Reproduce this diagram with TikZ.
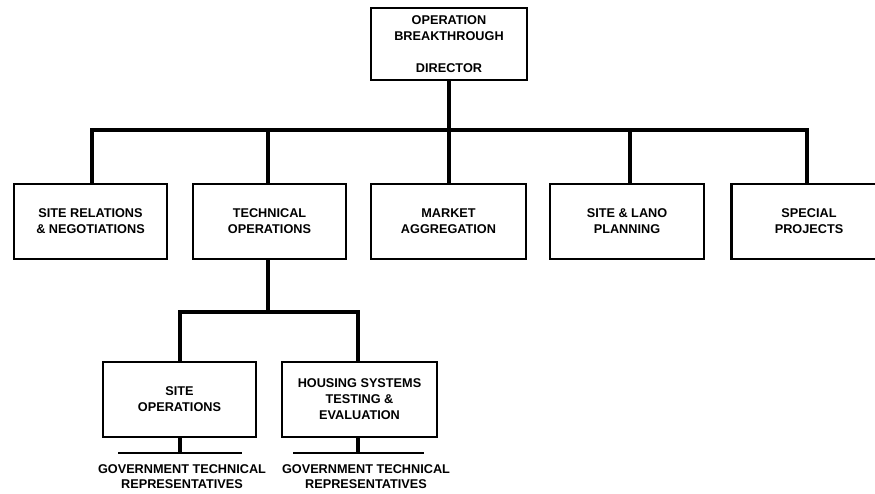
\documentclass[tikz,border=0pt]{standalone}
\usepackage{fontspec}
\setmainfont{Liberation Sans}
\begin{document}
\begin{tikzpicture}[x=1pt,y=-1pt,
  box/.style={draw,line width=2.2pt,minimum height=75pt,align=center,inner sep=0pt,
    font=\fontsize{12.7pt}{16pt}\selectfont\bfseries},
  lbl/.style={align=center,inner sep=0pt,font=\fontsize{12.7pt}{15pt}\selectfont\bfseries},
  trunk/.style={line width=4pt},
  foot/.style={line width=2pt}]
\useasboundingbox (0,0) rectangle (875,493);
% top
\node[box,minimum width=156pt,minimum height=72pt] (top) at (449,44) {OPERATION\\BREAKTHROUGH\\ \\DIRECTOR};
% row
\node[box,minimum width=153pt] (b1) at (90.5,221.5) {SITE RELATIONS\\\& NEGOTIATIONS};
\node[box,minimum width=153pt] (b2) at (269.5,221.5) {TECHNICAL\\OPERATIONS};
\node[box,minimum width=155pt] (b3) at (448.5,221.5) {MARKET\\AGGREGATION};
\node[box,minimum width=154pt] (b4) at (627,221.5) {SITE \& LANO\\PLANNING};
\node[box,minimum width=155pt] (b5) at (809,221.5) {SPECIAL\\PROJECTS};
% sub
\node[box,minimum width=153pt] (sA) at (179.5,399.5) {SITE\\OPERATIONS};
\node[box,minimum width=155pt] (sB) at (359.5,399.5) {HOUSING SYSTEMS\\TESTING \&\\EVALUATION};
% labels
\node[lbl] (gA) at (182,476.5) {GOVERNMENT TECHNICAL\\REPRESENTATIVES};
\node[lbl] (gB) at (366,476.5) {GOVERNMENT TECHNICAL\\REPRESENTATIVES};
% junctions
\coordinate (j1) at (92,130);
\coordinate (j2) at (268,130);
\coordinate (j3) at (449,130);
\coordinate (j4) at (630,130);
\coordinate (j5) at (807,130);
\coordinate (k0) at (268,312);
\coordinate (k1) at (180,312);
\coordinate (k2) at (358,312);
\coordinate (fA) at (180,453);
\coordinate (fB) at (358,453);
\coordinate (fA1) at (118,453);
\coordinate (fA2) at (242,453);
\coordinate (fB1) at (293,453);
\coordinate (fB2) at (424,453);
% connectors
\draw[trunk] (top.south) -- (top.south |- j1);
\draw[trunk] (j1 |- b1.north) -- (j1) -- (j5) -- (j5 |- b5.north);
\draw[trunk] (j2) -- (j2 |- b2.north);
\draw[trunk] (j3) -- (j3 |- b3.north);
\draw[trunk] (j4) -- (j4 |- b4.north);
\draw[trunk] (k0 |- b2.south) -- (k0);
\draw[trunk] (k1 |- sA.north) -- (k1) -- (k2) -- (k2 |- sB.north);
\draw[trunk] (fA |- sA.south) -- (fA);
\draw[trunk] (fB |- sB.south) -- (fB);
\draw[foot] (fA1) -- (fA2);
\draw[foot] (fB1) -- (fB2);
\end{tikzpicture}
\end{document}
